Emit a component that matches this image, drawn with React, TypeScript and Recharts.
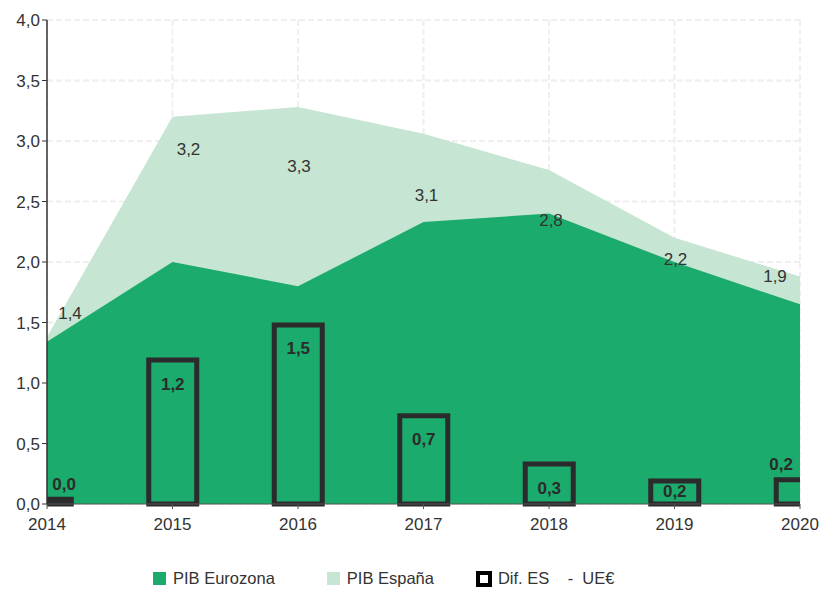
import { Area, Bar, CartesianGrid, ComposedChart, LabelList, XAxis, YAxis } from "recharts"

const YEARS = ['2014', '2015', '2016', '2017', '2018', '2019', '2020']
const PIB_EUROZONA = [1.34, 2.0, 1.8, 2.33, 2.4, 2.0, 1.65]
const PIB_ESPANA = [1.38, 3.2, 3.28, 3.06, 2.76, 2.2, 1.88]
const DIF_ES_UE = [0.04, 1.19, 1.48, 0.73, 0.33, 0.19, 0.2]
const Y_TICKS = [0, 0.5, 1, 1.5, 2, 2.5, 3, 3.5, 4]

const DARK = '#1bab6c'
const LIGHT = '#c7e5d3'
const INK = '#2b2b2b'
const FONT = '"Liberation Sans", Arial, sans-serif'

// plot edges (left margin + y axis width, chart width - right margin)
const PLOT_LEFT = 47
const PLOT_RIGHT = 800

// label nudges for the España series, one per year
const ES_DX = [23, 16, 1, 3, 2, 1, -25]
const ES_DY = [-24, 33, 59, 62, 50, 22, 0]

const data = YEARS.map((year, i) => ({
    year,
    eurozona: PIB_EUROZONA[i],
    espana: PIB_ESPANA[i],
    dif: DIF_ES_UE[i],
}))

const fmt = (v: number) => v.toFixed(1).replace('.', ',')

const EsLabel = (props: any) => {
    const { x, y, value, index } = props
    return (
        <text x={x + ES_DX[index]} y={y + ES_DY[index]} textAnchor="middle" dominantBaseline="central"
            fontSize={17} fill="#333" fontFamily={FONT}>
            {fmt(value)}
        </text>
    )
}

const DifLabel = (props: any) => {
    const { x, y, width, height, value, index } = props
    const left = Math.max(x, PLOT_LEFT)
    const right = Math.min(x + width, PLOT_RIGHT)
    let cx = (left + right) / 2
    const first = index === 0
    const last = index === YEARS.length - 1
    if (first) cx += 5
    if (last) cx -= 7
    const bottom = y + height
    const ly = first || last ? y - 15 : Math.min(y + 24, bottom - 13)
    return (
        <text x={cx} y={ly} textAnchor="middle" dominantBaseline="central"
            fontSize={17} fontWeight="bold" fill={INK} fontFamily={FONT}>
            {fmt(value)}
        </text>
    )
}

const LegendRow = () => (
    <div style={{ position: 'absolute', top: 569, left: 153, display: 'flex', alignItems: 'center',
        fontFamily: FONT, fontSize: 16.5, color: '#333', whiteSpace: 'pre' }}>
        <span style={{ width: 13, height: 13, background: DARK, display: 'inline-block', marginRight: 7 }} />
        <span style={{ marginRight: 52 }}>PIB Eurozona</span>
        <span style={{ width: 13, height: 13, background: LIGHT, display: 'inline-block', marginRight: 7 }} />
        <span style={{ marginRight: 42 }}>PIB España</span>
        <span style={{ width: 8, height: 8, border: '4px solid #000', background: '#fff', display: 'inline-block', marginRight: 6 }} />
        <span>Dif. ES    -  UE€</span>
    </div>
)

export default function App() {
    return (
        <div style={{ position: 'absolute', left: 0, top: 0, width: 827, height: 590, background: '#fff' }}>
            <ComposedChart width={827} height={590} data={data}
                margin={{ top: 20, right: 27, left: 0, bottom: 56 }}>
                <CartesianGrid stroke="#f0eeee" strokeDasharray="6 3" strokeWidth={2} />
                <XAxis dataKey="year" scale="point" allowDataOverflow height={30}
                    tick={{ fontSize: 17, fill: '#333', fontFamily: FONT }}
                    axisLine={{ stroke: '#555' }} tickLine={{ stroke: '#555' }} tickSize={5} tickMargin={9} />
                <YAxis domain={[0, 4]} ticks={Y_TICKS} width={47} tickFormatter={fmt}
                    tick={{ fontSize: 17, fill: '#333', fontFamily: FONT }}
                    axisLine={{ stroke: '#333', strokeWidth: 1.5 }} tickLine={{ stroke: '#333' }} tickSize={5} tickMargin={2} />
                <Area type="linear" dataKey="espana" fill={LIGHT} fillOpacity={1} stroke="none" isAnimationActive={false}>
                    <LabelList dataKey="espana" content={EsLabel} />
                </Area>
                <Area type="linear" dataKey="eurozona" fill={DARK} fillOpacity={1} stroke="none" isAnimationActive={false} />
                <Bar dataKey="dif" barSize={48} fill="none" stroke={INK} strokeWidth={5} isAnimationActive={false}>
                    <LabelList dataKey="dif" content={DifLabel} />
                </Bar>
            </ComposedChart>
            <LegendRow />
        </div>
    )
}
